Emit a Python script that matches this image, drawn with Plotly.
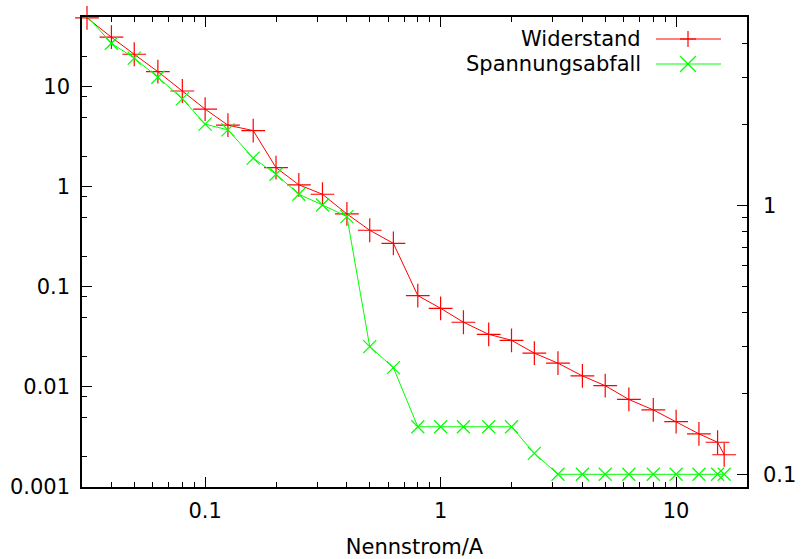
import plotly.graph_objects as go
import math

# ---- data ----
current = [0.0315, 0.04, 0.05, 0.063, 0.08, 0.1, 0.125, 0.16, 0.2, 0.25, 0.315, 0.4,
           0.5, 0.63, 0.8, 1, 1.25, 1.6, 2, 2.5, 3.15, 4, 5, 6.3, 8, 10, 12.5, 15, 16]
widerstand = [49, 31.4, 21.2, 14.2, 9.1, 6.0, 4.14, 3.66, 1.56, 1.05, 0.845, 0.537,
              0.369, 0.273, 0.082, 0.0612, 0.0444, 0.0336, 0.0293, 0.0218,
              0.0173, 0.0129, 0.0103, 0.0075, 0.0059, 0.0045, 0.0034, 0.0028, 0.0021]
spannungsabfall = [51, 27.3, 19.4, 12.5, 7.6, 4.24, 3.72, 1.94, 1.34, 0.845, 0.66, 0.505,
                   0.0253, 0.0156, 0.004, 0.004, 0.004, 0.004, 0.004, 0.00217,
                   0.00134, 0.00134, 0.00134, 0.00134, 0.00134, 0.00134, 0.00134, 0.00134, 0.00134]

series_names = ["Widerstand", "Spannungsabfall"]
x_ticks = [0.1, 1, 10]
x_ticktext = ["0.1", "1", "10"]
y_ticks = [0.001, 0.01, 0.1, 1, 10]
y_ticktext = ["0.001", "0.01", "0.1", "1", "10"]
y2_ticks = [0.1, 1]
y2_ticktext = ["0.1", "1"]

RED = "#ff0000"
GREEN = "#00ff00"
FONT = "DejaVu Sans"
FS = 21

fig = go.Figure()
fig.add_trace(go.Scatter(
    x=current, y=widerstand, mode="lines+markers", name=series_names[0],
    line=dict(color=RED, width=1),
    marker=dict(symbol="cross-thin", size=17, color=RED, line=dict(color=RED, width=1.2)),
    cliponaxis=False, showlegend=False))
fig.add_trace(go.Scatter(
    x=current, y=spannungsabfall, mode="lines+markers", name=series_names[1],
    line=dict(color=GREEN, width=1),
    marker=dict(symbol="x-thin", size=13, color=GREEN, line=dict(color=GREEN, width=1.2)),
    cliponaxis=False, showlegend=False))
# anchor trace for the right axis (invisible)
fig.add_trace(go.Scatter(x=[1], y=[1], yaxis="y2", mode="markers",
                         marker=dict(opacity=0), hoverinfo="skip", showlegend=False))

x_minor = [m * 10 ** e for e in (-2, -1, 0, 1) for m in range(2, 10)]
y_minor = [m * 10 ** e for e in (-3, -2, -1, 0, 1) for m in (2, 5, 8)]
y2_minor = [m * 10 ** e for e in (-1, 0) for m in range(2, 10)]

fig.update_layout(
    width=802, height=559,
    margin=dict(l=82, r=55, t=17, b=72),
    paper_bgcolor="white", plot_bgcolor="white",
    font=dict(family=FONT, size=FS, color="black"),
    xaxis=dict(
        type="log", range=[math.log10(0.03), math.log10(20)],
        tickmode="array", tickvals=x_ticks, ticktext=x_ticktext,
        ticks="inside", ticklen=10, tickwidth=1, tickcolor="black",
        minor=dict(tickmode="array", tickvals=x_minor, ticks="inside", ticklen=5,
                   tickwidth=1, tickcolor="black", showgrid=False),
        showgrid=False, zeroline=False, automargin=False,
        showline=True, linecolor="black", linewidth=1.5, mirror="ticks",
        ticklabelstandoff=4,
        title=dict(text="Nennstrom/A", font=dict(size=FS), standoff=20),
    ),
    yaxis=dict(
        type="log", range=[-3, math.log10(50)],
        tickmode="array", tickvals=y_ticks, ticktext=y_ticktext,
        ticks="inside", ticklen=10, tickwidth=1, tickcolor="black",
        minor=dict(tickmode="array", tickvals=y_minor, ticks="inside", ticklen=5,
                   tickwidth=1, tickcolor="black", showgrid=False),
        showgrid=False, zeroline=False, automargin=False,
        showline=True, linecolor="black", linewidth=1.5, mirror=False,
        ticklabelstandoff=6,
    ),
    yaxis2=dict(
        type="log", overlaying="y", side="right",
        range=[math.log10(0.0897), math.log10(5.04)],
        tickmode="array", tickvals=y2_ticks, ticktext=y2_ticktext,
        ticks="inside", ticklen=10, tickwidth=1, tickcolor="black",
        minor=dict(tickmode="array", tickvals=y2_minor, ticks="inside", ticklen=5,
                   tickwidth=1, tickcolor="black", showgrid=False),
        showgrid=False, zeroline=False, automargin=False,
        showline=True, linecolor="black", linewidth=1.5,
        ticklabelstandoff=10,
    ),
)

# ---- gnuplot-style key (text left, sample right) ----
W, H = 665.0, 470.0
def px(xp):
    return (xp - 82) / W
def py(yp):
    return (487 - yp) / H

rows = [(series_names[0], RED, "plus", 39), (series_names[1], GREEN, "cross", 64)]
shapes = []
annotations = []
for name, col, sym, yrow in rows:
    annotations.append(dict(xref="paper", yref="paper", x=px(643), y=py(yrow),
                            xanchor="right", yanchor="middle", text=name, showarrow=False,
                            font=dict(family=FONT, size=FS, color="black")))
    shapes.append(dict(type="line", xref="paper", yref="paper",
                       x0=px(656), x1=px(721), y0=py(yrow), y1=py(yrow),
                       line=dict(color=col, width=1)))
    cx, cy = px(688), py(yrow)
    if sym == "plus":
        segs = [(-8, 0, 8, 0), (0, -8, 0, 8)]
    else:
        segs = [(-8, -8, 8, 8), (-8, 8, 8, -8)]
    for x0, y0, x1, y1 in segs:
        shapes.append(dict(type="line", xref="paper", yref="paper",
                           xsizemode="pixel", ysizemode="pixel",
                           xanchor=cx, yanchor=cy, x0=x0, x1=x1, y0=y0, y1=y1,
                           line=dict(color=col, width=1.2)))

fig.update_layout(shapes=shapes, annotations=annotations)
fig.write_html("out.html", config={"displayModeBar": False},
               post_script="document.body.style.margin='0';document.body.style.overflow='hidden';")
